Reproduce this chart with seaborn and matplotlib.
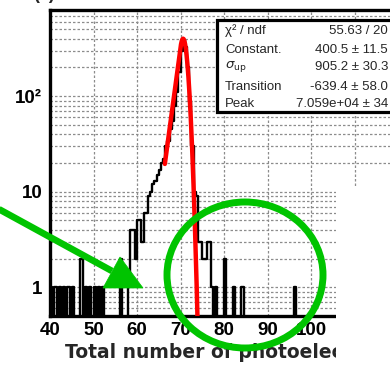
import numpy as np
import pandas as pd
import matplotlib
matplotlib.use("Agg")
import matplotlib.pyplot as plt
import seaborn as sns
from matplotlib.patches import Rectangle, Ellipse, Polygon
from matplotlib.lines import Line2D
from matplotlib.ticker import FixedLocator, FixedFormatter, MultipleLocator, NullFormatter, LogLocator

# ---- histogram contents: centres of the 0.5-wide bins and their entries ----
pe_centres = [40.25, 41.25, 42.25, 43.25, 44.25, 45.25, 47.25, 48.25, 49.25, 50.25,
              51.25, 52.25, 56.25,
              58.25, 58.75, 59.25, 59.75, 60.25, 60.75, 61.25, 61.75, 62.25, 62.75,
              63.25, 63.75, 64.25, 64.75, 65.25, 65.75, 66.25, 66.75, 67.25, 67.75,
              68.25, 68.75, 69.25, 69.75, 70.25, 70.75, 71.25, 71.75, 72.25, 72.75,
              73.25, 73.75, 74.25, 74.75, 75.25, 75.75, 76.25, 76.75, 77.25, 78.25,
              80.25, 82.25, 84.25, 96.25]
pe_entries = [1, 1, 1, 1, 1, 1, 2, 1, 1, 1,
              1, 1, 2,
              1, 4, 4, 2, 5, 5, 3, 6, 6, 9,
              10, 12, 13, 15, 17, 20, 22, 30, 34, 45,
              55, 80, 110, 180, 300, 390, 330, 200, 90, 30,
              10, 9, 3, 3, 2, 2, 3, 3, 1, 1,
              2, 1, 1, 1]

# ---- fit results (peak / sigma / transition in units of 1e-3 photoelectrons) ----
fit_chi2, fit_ndf = 55.63, 20
fit_const, fit_const_err = 400.5, 11.5
fit_sigma_up, fit_sigma_up_err = 905.2, 30.3
fit_transition, fit_transition_err = -639.4, 58.0
fit_peak, fit_peak_err = 7.059e4, 34
fit_range = (66.4, 75.0)

x_ticks = [40, 50, 60, 70, 80, 90, 100, 110, 120]
x_tick_labels = ["40", "50", "60", "70", "80", "90", "100", "", ""]
y_ticks = [1, 10, 100]
y_tick_labels = ["1", "10", "10\u00b2"]
x_title = "Total number of photoelectrons"


def fit_shape(x):
    """Gaussian above the transition point, exponential tail below it."""
    xs = np.asarray(x) * 1000.0
    t = fit_peak + fit_transition
    gauss = fit_const * np.exp(-0.5 * ((xs - fit_peak) / fit_sigma_up) ** 2)
    f_t = fit_const * np.exp(-0.5 * (fit_transition / fit_sigma_up) ** 2)
    slope = -fit_transition / fit_sigma_up ** 2
    tail = f_t * np.exp(slope * (xs - t))
    return np.where(xs >= t, gauss, tail)


sns.set_style("white")
plt.rcParams["font.family"] = ["Liberation Sans", "DejaVu Sans"]

W, H = 390, 367
fig = plt.figure(figsize=(W / 100, H / 100), dpi=100)
px = fig.dpi_scale_trans  # coordinates in 1/100 inch, i.e. output pixels


def P(x, y):
    return (x / 100.0, (H - y) / 100.0)


ax = fig.add_axes([50 / W, (H - 316) / H, (398 - 50) / W, (316 - 10) / H])

hist_df = pd.DataFrame({"pe": pe_centres, "n": pe_entries})
sns.histplot(data=hist_df, x="pe", weights="n", binwidth=0.5, binrange=(40, 120),
             element="step", fill=False, color="black", linewidth=1.7, ax=ax)

xf = np.linspace(fit_range[0], fit_range[1], 600)
fit_df = pd.DataFrame({"x": xf, "y": fit_shape(xf)})
sns.lineplot(data=fit_df, x="x", y="y", color="#ff0000", linewidth=3.2, ax=ax, zorder=4)

ax.set_yscale("log", nonpositive="clip")
ax.set_xlim(40, 120)
ax.set_ylim(0.5, 800)
ax.set_xlabel("")
ax.set_ylabel("")

ax.xaxis.set_major_locator(FixedLocator(x_ticks))
ax.xaxis.set_major_formatter(FixedFormatter(x_tick_labels))
ax.xaxis.set_minor_locator(MultipleLocator(2))
ax.yaxis.set_major_locator(FixedLocator(y_ticks))
ax.yaxis.set_major_formatter(FixedFormatter(y_tick_labels))
ax.yaxis.set_minor_locator(LogLocator(base=10, subs=np.arange(2, 10)))
ax.yaxis.set_minor_formatter(NullFormatter())

ax.tick_params(axis="both", which="major", direction="in", length=8, width=1.6,
               labelsize=13.5, colors="black")
ax.tick_params(axis="both", which="minor", direction="in", length=4, width=1.3)
ax.tick_params(axis="x", which="major", pad=4.5)
ax.tick_params(axis="y", which="major", pad=5.5)
for lab in ax.get_xticklabels() + ax.get_yticklabels():
    lab.set_fontweight("bold")

grid_kw = dict(color="#8c8c8c", linewidth=0.9, linestyle=(0, (2, 1.6)))
ax.grid(True, which="both", axis="y", **grid_kw)
ax.grid(True, which="major", axis="x", **grid_kw)
ax.set_axisbelow(True)

for side in ["left", "bottom", "top", "right"]:
    ax.spines[side].set_linewidth(2.4)
    ax.spines[side].set_color("black")

# panel tag at the top edge
fig.text(*P(33, -1), "(a)", transform=px, fontsize=13, fontweight="bold",
         va="baseline", ha="left")

# statistics box
fig.add_artist(Rectangle(P(217, 112), 2.0, (112 - 20) / 100.0, transform=px,
                         facecolor="white", edgecolor="black", linewidth=2.3, zorder=5))
rows = [
    ("\u03c7\u00b2 / ndf", f"{fit_chi2:.2f} / {fit_ndf}", 31),
    ("Constant.", f"{fit_const:.1f} \u00b1 {fit_const_err:.1f}", 50),
    (r"$\sigma_{\mathrm{up}}$", f"{fit_sigma_up:.1f} \u00b1 {fit_sigma_up_err:.1f}", 67),
    ("Transition", f"{fit_transition:.1f} \u00b1 {fit_transition_err:.1f}", 87),
    ("Peak", f"{fit_peak:.3e}" + f" \u00b1 {fit_peak_err:.0f}", 104),
]
for label, value, yrow in rows:
    fig.text(*P(225, yrow), label, transform=px, fontsize=9.5, ha="left", va="center",
             zorder=6)
    fig.text(*P(388, yrow), value, transform=px, fontsize=9.5, ha="right", va="center",
             zorder=6)

# axis title
fig.text(*P(65, 358), x_title, transform=px, fontsize=13.5, fontweight="bold",
         family=["DejaVu Sans"], ha="left", va="baseline", zorder=3)

# blank panel covering the lower right corner
fig.add_artist(Rectangle(P(336, 400), 1.0, (400 - 187) / 100.0, transform=px,
                         facecolor="white", edgecolor="none", zorder=20))

# green annotation: arrow and circle
green = "#00c400"
a0, a1 = P(-5, 207), P(112, 271)
fig.add_artist(Line2D([a0[0], a1[0]], [a0[1], a1[1]],
                      transform=px, color=green, linewidth=4.8, solid_capstyle="butt",
                      zorder=30))
fig.add_artist(Polygon([P(120, 257), P(103, 288), P(143, 288)], closed=True,
                       transform=px, facecolor=green, edgecolor=green, linewidth=0.5,
                       zorder=30))
fig.add_artist(Ellipse(P(245, 275), 1.56, 1.46, transform=px, facecolor="none",
                       edgecolor=green, linewidth=5.0, zorder=30))

fig.savefig("out.png", dpi=100)
